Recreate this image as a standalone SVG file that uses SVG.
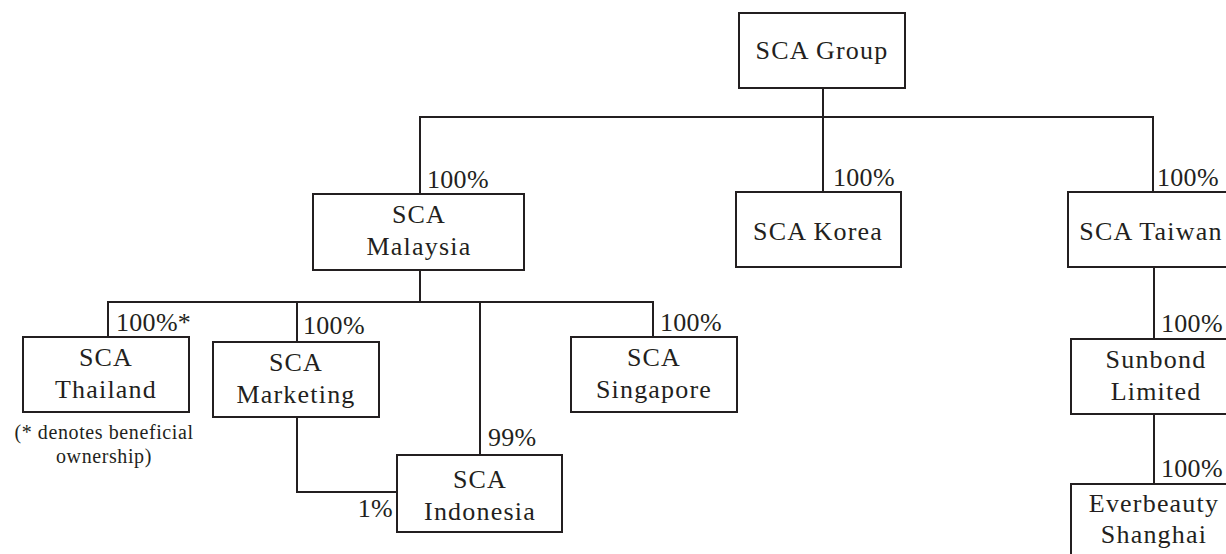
<svg xmlns="http://www.w3.org/2000/svg" width="1226" height="554" viewBox="0 0 1226 554">
<style>
.box{fill:#fff;stroke:#231f20;stroke-width:2}
.ln{fill:none;stroke:#231f20;stroke-width:2}
.t{font-family:'Liberation Serif','Times New Roman',serif;font-size:26px;fill:#231f20;letter-spacing:1.2px}
.p{letter-spacing:0.3px}
.c{text-anchor:middle}
.note{font-size:20px;letter-spacing:0.6px}
</style>
<rect width="1226" height="554" fill="#fff"/>
<g id="connectors">
<path class="ln" d="M823 88V192M420 194V117H1153V192"/>
<path class="ln" d="M420 270V302M108 336V302H653V337M297 302V342M480 302V455M297 417V492H397"/>
<path class="ln" d="M1154 267V339M1154 414V484"/>
</g>
<g id="labels" class="t p">
<text x="427" y="188">100%</text>
<text x="833" y="186">100%</text>
<text x="1157" y="186">100%</text>
<text x="116" y="331">100%*</text>
<text x="303" y="334">100%</text>
<text x="660" y="331">100%</text>
<text x="488" y="446">99%</text>
<text x="393" y="517" text-anchor="end">1%</text>
<text x="1161" y="332">100%</text>
<text x="1161" y="477">100%</text>
</g>
<g class="t">
<g id="group"><rect class="box" x="739" y="13" width="166" height="75"/><text class="c" x="822" y="59">SCA Group</text></g>
<g id="malaysia"><rect class="box" x="313" y="194" width="211" height="76"/><text class="c" x="419" y="223">SCA</text><text class="c" x="419" y="255">Malaysia</text></g>
<g id="korea"><rect class="box" x="736" y="192" width="165" height="75"/><text class="c" x="818" y="240">SCA Korea</text></g>
<g id="taiwan"><rect class="box" x="1068" y="192" width="166" height="75"/><text class="c" x="1151" y="240">SCA Taiwan</text></g>
<g id="thailand"><rect class="box" x="23" y="337" width="166" height="75"/><text class="c" x="106" y="366">SCA</text><text class="c" x="106" y="398">Thailand</text></g>
<g id="marketing"><rect class="box" x="213" y="342" width="166" height="75"/><text class="c" x="296" y="371">SCA</text><text class="c" x="296" y="403">Marketing</text></g>
<g id="singapore"><rect class="box" x="571" y="337" width="166" height="75"/><text class="c" x="654" y="366">SCA</text><text class="c" x="654" y="398">Singapore</text></g>
<g id="indonesia"><rect class="box" x="397" y="455" width="165" height="77"/><text class="c" x="480" y="488">SCA</text><text class="c" x="480" y="520">Indonesia</text></g>
<g id="sunbond"><rect class="box" x="1071" y="339" width="170" height="75"/><text class="c" x="1156" y="368">Sunbond</text><text class="c" x="1156" y="400">Limited</text></g>
<g id="everbeauty"><rect class="box" x="1071" y="484" width="166" height="76"/><text class="c" x="1154" y="512">Everbeauty</text><text class="c" x="1154" y="543">Shanghai</text></g>
<g id="note"><text class="c note" x="104" y="439">(* denotes beneficial</text><text class="c note" x="104" y="463">ownership)</text></g>
</g>
</svg>
